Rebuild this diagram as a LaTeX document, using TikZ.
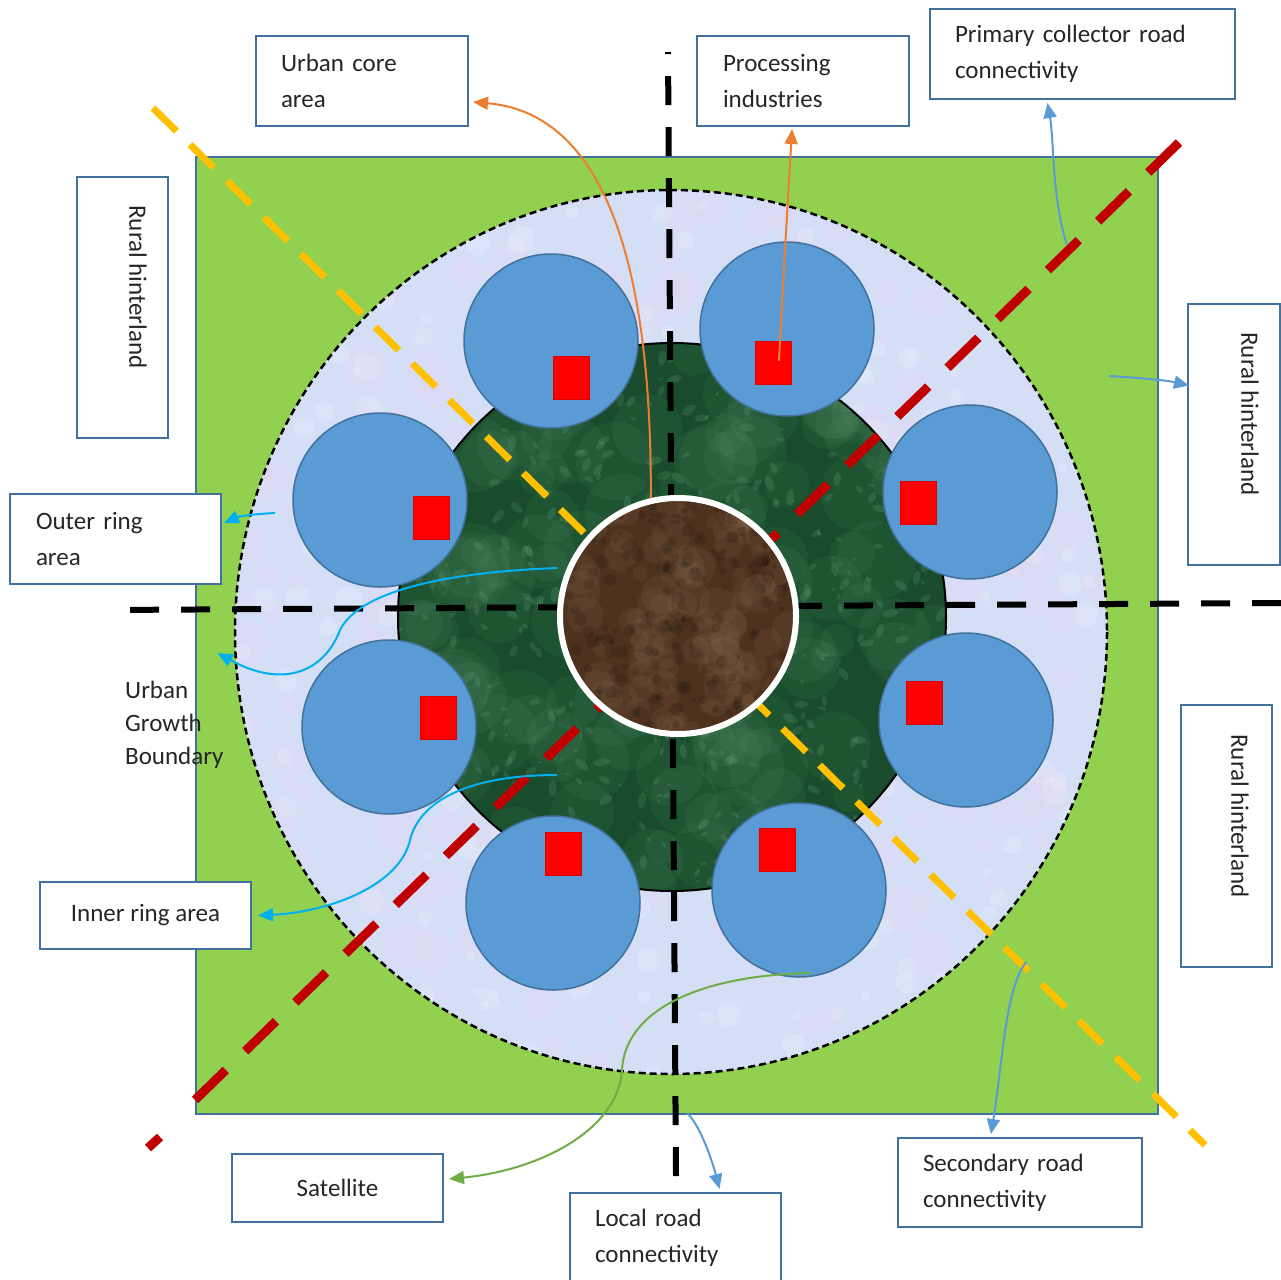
\documentclass[tikz,border=0pt]{standalone}
\usepackage{fontspec}
\setmainfont{Carlito}
\usetikzlibrary{arrows.meta,calc}
\definecolor{boxblue}{RGB}{65,113,156}
\definecolor{fieldgreen}{RGB}{146,208,80}
\definecolor{lav}{RGB}{212,223,246}
\definecolor{lavpink}{RGB}{232,212,240}
\definecolor{dkgreen}{RGB}{24,76,44}
\definecolor{ltgreen}{RGB}{120,180,135}
\definecolor{corebrown}{RGB}{78,50,30}
\definecolor{corelight}{RGB}{150,120,92}
\definecolor{satblue}{RGB}{91,155,213}
\definecolor{roadyellow}{RGB}{255,192,0}
\definecolor{roadred}{RGB}{192,0,0}
\definecolor{arrorange}{RGB}{237,125,49}
\definecolor{arrblue}{RGB}{91,155,213}
\definecolor{arrcyan}{RGB}{0,176,240}
\definecolor{arrgreen}{RGB}{112,173,71}
\definecolor{txt}{RGB}{38,38,38}
\begin{document}
\begin{tikzpicture}[x=1pt,y=-1pt,
  lbl/.style={draw=boxblue, line width=2pt, fill=white, rectangle, inner sep=0pt,
    text=txt, font=\fontsize{25}{36}\selectfont},
  lbll/.style={lbl, align=left, anchor=north west},
  plain/.style={inner sep=0pt, text=txt, font=\fontsize{25}{33}\selectfont},
  sat/.style={circle, minimum size=174pt, inner sep=0pt, fill=satblue, draw=boxblue, line width=1.5pt},
  ind/.style={rectangle, minimum width=36pt, minimum height=43pt, inner sep=0pt, fill=red, draw=red!85!black, line width=0.8pt},
  road/.style={line cap=butt},
  conn/.style={line width=2pt, -{Triangle[length=15pt,width=13pt]}},
]
\useasboundingbox (0,0) rectangle (1281,1279);
\fill[white] (0,0) rectangle (1281,1279);

% rural field
\draw[fill=fieldgreen, draw=boxblue, line width=2pt] (196,157) rectangle (1158,1114);

% outer ring (lavender) with texture
\begin{scope}
  \clip (671,632) ellipse (436 and 442);
  \fill[lav] (671,632) ellipse (436 and 442);
  \pgfmathsetseed{11}
  \foreach \i in {1,...,300}{
    \pgfmathsetmacro{\px}{235+872*rnd}
    \pgfmathsetmacro{\py}{190+884*rnd}
    \pgfmathsetmacro{\pr}{6+18*rnd}
    \fill[lavpink, opacity=0.25] (\px,\py) circle (\pr);
  }
  \foreach \i in {1,...,300}{
    \pgfmathsetmacro{\px}{235+872*rnd}
    \pgfmathsetmacro{\py}{190+884*rnd}
    \pgfmathsetmacro{\pr}{4+10*rnd}
    \fill[white, opacity=0.15] (\px,\py) circle (\pr);
  }
\end{scope}
\draw[black, line width=2.5pt, dash pattern=on 7pt off 4pt] (671,632) ellipse (436 and 442);

% inner ring (dark green) with texture
\begin{scope}
  \clip (672,617) circle (274);
  \fill[dkgreen] (672,617) circle (274);
  \pgfmathsetseed{5}
  \foreach \i in {1,...,160}{
    \pgfmathsetmacro{\px}{398+548*rnd}
    \pgfmathsetmacro{\py}{343+548*rnd}
    \pgfmathsetmacro{\pr}{15+25*rnd}
    \fill[ltgreen, opacity=0.08] (\px,\py) circle (\pr);
  }
  \foreach \i in {1,...,500}{
    \pgfmathsetmacro{\px}{398+548*rnd}
    \pgfmathsetmacro{\py}{343+548*rnd}
    \pgfmathsetmacro{\pr}{2+6*rnd}
    \pgfmathsetmacro{\pa}{180*rnd}
    \fill[ltgreen, opacity=0.18, rotate around={\pa:(\px,\py)}] (\px,\py) ellipse ({\pr} and {0.5*\pr});
  }
\end{scope}
\draw[black, line width=2pt] (672,617) circle (274);

% satellites
\node[sat] (c1) at (551,341) {};
\node[sat] (c2) at (787,329) {};
\node[sat] (c3) at (970,492) {};
\node[sat] (c4) at (966,720) {};
\node[sat] (c5) at (799,890) {};
\node[sat] (c6) at (553,903) {};
\node[sat] (c7) at (389,727) {};
\node[sat] (c8) at (380,500) {};

% processing industries
\node[ind] (sq1) at (571,378) {};
\node[ind] (sq2) at (773,363) {};
\node[ind] (sq3) at (918,503) {};
\node[ind] (sq4) at (924,703) {};
\node[ind] (sq5) at (777,850) {};
\node[ind] (sq6) at (563,854) {};
\node[ind] (sq7) at (438,718) {};
\node[ind] (sq8) at (431,518) {};

% roads
\draw[road, black, line width=6pt, dash pattern=on 29pt off 22pt] (676,1176) -- (668,52);
\draw[road, black, line width=6pt, dash pattern=on 29pt off 22pt] (1281,603) -- (110,610);
\draw[road, roadyellow, line width=7pt, dash pattern=on 33pt off 19pt] (153,108) -- (1205,1145);
\draw[road, roadred, line width=9pt, dash pattern=on 43pt off 27pt] (195,1100) -- (1195,127);
\draw[road, roadred, line width=9pt] (148,1148) -- (160,1137);

% urban core
\begin{scope}
  \clip (678,616) circle (118);
  \fill[corebrown] (678,616) circle (118);
  \pgfmathsetseed{3}
  \foreach \i in {1,...,120}{
    \pgfmathsetmacro{\px}{560+236*rnd}
    \pgfmathsetmacro{\py}{498+236*rnd}
    \pgfmathsetmacro{\pr}{6+14*rnd}
    \fill[corelight, opacity=0.12] (\px,\py) circle (\pr);
  }
  \foreach \i in {1,...,200}{
    \pgfmathsetmacro{\px}{560+236*rnd}
    \pgfmathsetmacro{\py}{498+236*rnd}
    \pgfmathsetmacro{\pr}{2+5*rnd}
    \fill[black, opacity=0.12] (\px,\py) circle (\pr);
  }
\end{scope}
\node[circle, draw=white, line width=6pt, minimum size=236pt, inner sep=0pt] (core) at (678,616) {};

% labels
\node[lbll, minimum width=212pt, minimum height=90pt, text width=162pt] (uc) at (255,35) {Urban core\\area};
\node[lbll, minimum width=212pt, minimum height=90pt, text width=160pt] (pi) at (696,35) {Processing\\industries};
\node[lbll, minimum width=305pt, minimum height=90pt, text width=255pt] (pc) at (929,8) {Primary collector road\\connectivity};
\node[lbll, minimum width=211pt, minimum height=90pt, text width=159pt] (or) at (9,493) {Outer ring\\area};
\node[lbll, minimum width=211pt, minimum height=90pt, text width=161pt] (lr) at (569,1192) {Local road\\connectivity};
\node[lbll, minimum width=244pt, minimum height=89pt, text width=194pt] (sr) at (897,1137) {Secondary road\\connectivity};
\node[lbl, anchor=north west, minimum width=211pt, minimum height=67pt] (ir) at (39,881) {Inner ring area};
\node[lbl, anchor=north west, minimum width=211pt, minimum height=68pt] (st) at (231,1153) {Satellite};

\node[lbl, anchor=north west, minimum width=91pt, minimum height=261pt] (rl) at (76,176) {};
\node[plain, rotate=-90] (rlt) at (138,287) {Rural hinterland};
\node[lbl, anchor=north west, minimum width=92pt, minimum height=261pt] (rr1) at (1187,303) {};
\node[plain, rotate=-90] (rr1t) at (1250,414) {Rural hinterland};
\node[lbl, anchor=north west, minimum width=91pt, minimum height=262pt] (rr2) at (1180,704) {};
\node[plain, rotate=-90] (rr2t) at (1240,816) {Rural hinterland};

\node[plain, align=left, anchor=west] (ugb) at (125,725) {Urban\\Growth\\Boundary};

% connectors
\coordinate (pcs) at (1067,245);
\coordinate (rrs) at (1109,376);
\coordinate (ors) at (275,513);
\coordinate (ugbs) at (557,568);
\coordinate (irs) at (557,775);
\coordinate (sats) at (811,973);
\coordinate (lrs) at (687,1113);
\coordinate (srs) at (1026,962);

\draw[conn, arrorange] (core.103) .. controls (652,230) and (590,112) .. ($(uc.east)+(4,21)$);
\draw[conn, arrorange] ($(sq2.center)+(6,-2)$) .. controls (783,280) and (788,200) .. ($(pi.south)+(-11,2)$);
\draw[conn, arrblue] (pcs) .. controls (1052,200) and (1054,140) .. ($(pc.south)+(-35,3)$);
\draw[conn, arrblue] (rrs) .. controls (1140,378) and (1165,380) .. ($(rr1.west)+(2,-49)$);
\draw[conn, arrcyan] (ors) .. controls (255,514) and (240,516) .. ($(or.east)+(2,-16)$);
\draw[conn, arrcyan] (ugbs) .. controls (450,572) and (360,590) .. (340,630) .. controls (325,670) and (285,690) .. ($(ugb.north east)+(-6,-28)$);
\draw[conn, arrcyan] (irs) .. controls (470,775) and (420,800) .. (410,840) .. controls (400,885) and (330,912) .. ($(ir.east)+(6,0)$);
\draw[conn, arrgreen] (sats) .. controls (700,975) and (625,1010) .. (622,1070) .. controls (618,1130) and (540,1170) .. ($(st.east)+(5,-9)$);
\draw[conn, arrblue] (lrs) .. controls (700,1125) and (712,1160) .. ($(lr.north)+(44,-3)$);
\draw[conn, arrblue] (srs) .. controls (1005,990) and (1003,1060) .. ($(sr.north)+(-29,-3)$);
\end{tikzpicture}
\end{document}
